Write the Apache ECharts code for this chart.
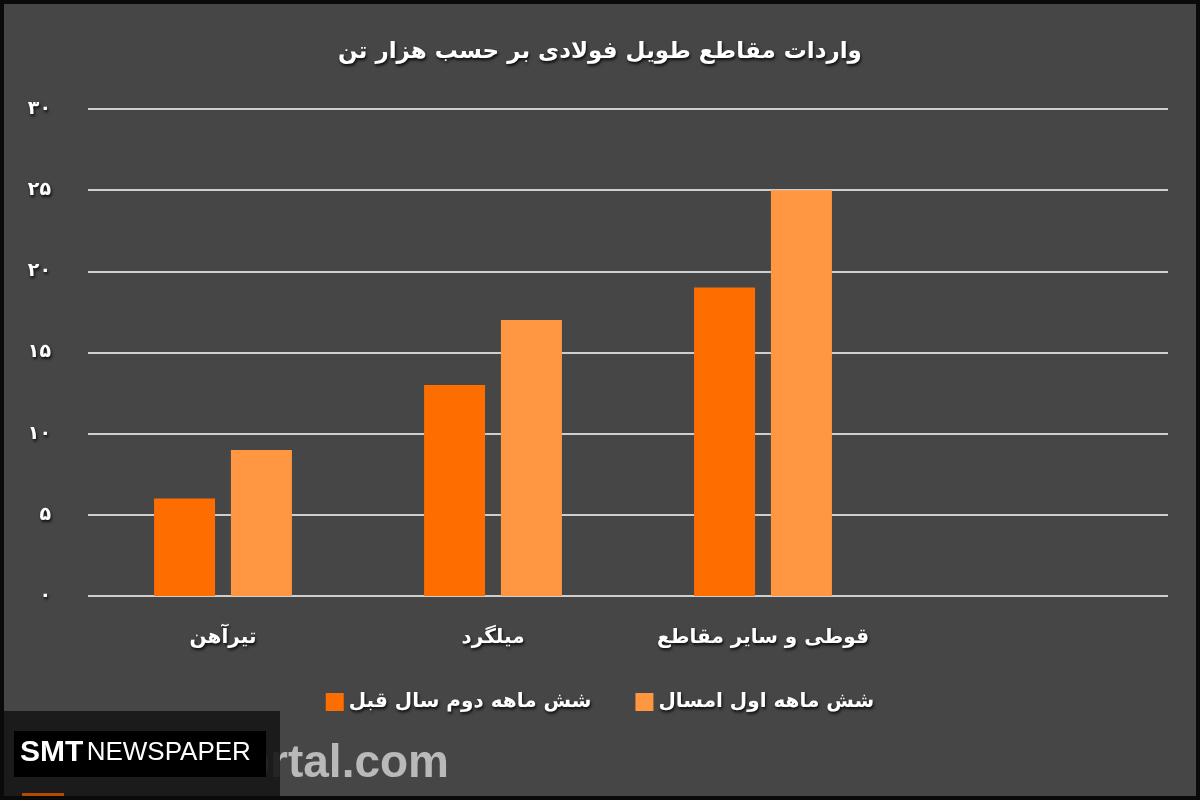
<!DOCTYPE html>
<html>
<head>
<meta charset="utf-8">
<script src="https://cdn.jsdelivr.net/npm/echarts@6/dist/echarts.min.js"></script>
<style>
html,body{margin:0;padding:0;background:#000;}
#c{width:1200px;height:800px;}
</style>
</head>
<body>
<div id="c"></div>
<script>
const categories = ['تیرآهن', 'میلگرد', 'قوطی و سایر مقاطع', ''];
const seriesNames = ['شش ماهه دوم سال قبل', 'شش ماهه اول امسال'];
const prevHalf = [6, 13, 19, null];
const thisHalf = [9, 17, 25, null];
const yTickLabels = ['۰', '۵', '۱۰', '۱۵', '۲۰', '۲۵', '۳۰'];
const titleText = 'واردات مقاطع طویل فولادی بر حسب هزار تن';

const FONT = '"DejaVu Sans", "Noto Sans", sans-serif';
const shadow = {textShadowColor:'rgba(0,0,0,0.85)', textShadowBlur:3, textShadowOffsetX:1, textShadowOffsetY:2};

const chart = echarts.init(document.getElementById('c'));
chart.setOption({
  backgroundColor: '#464646',
  animation: false,
  title: {
    text: titleText, left: 'center', top: 36,
    textStyle: Object.assign({color:'#fff', fontSize:23, fontWeight:'bold', fontFamily:FONT}, shadow)
  },
  legend: {
    data: seriesNames, left: 'center', top: 687, itemWidth: 18, itemHeight: 18, itemGap: 44,
    icon: 'rect',
    textStyle: Object.assign({color:'#fff', fontSize:20, fontWeight:'bold', fontFamily:FONT}, shadow)
  },
  grid: {left: 88, right: 32, top: 109, bottom: 204},
  xAxis: {
    type: 'category', data: categories,
    axisLine: {show:false}, axisTick: {show:false},
    axisLabel: Object.assign({color:'#fff', fontSize:20, fontWeight:'bold', fontFamily:FONT, margin:32, interval:0}, shadow)
  },
  yAxis: {
    type: 'value', min: 0, max: 30, interval: 5,
    axisLine: {show:false}, axisTick: {show:false},
    splitLine: {lineStyle: {color:'#cfcfcf', width:2}},
    axisLabel: Object.assign({
      color:'#fff', fontSize:19, fontWeight:'bold', fontFamily:FONT, margin:37,
      formatter: function(v){ return yTickLabels[Math.round(v/5)]; }
    }, shadow)
  },
  series: [
    {name: seriesNames[0], type:'bar', data: prevHalf, barWidth: 61, barGap: '26%',
     itemStyle: {color:'#fd6d00'}},
    {name: seriesNames[1], type:'bar', data: thisHalf, barWidth: 61,
     itemStyle: {color:'#ff9641'}}
  ],
  graphic: [
    {type:'text', z: 10,
     style: {x: 449, y: 764, text:'AminPortal.com', fill:'#b9b9b9', align:'right', verticalAlign:'middle',
             font:'bold 46px "Liberation Sans", Arial, sans-serif'}},
    {type:'rect', shape:{x:0, y:711, width:280, height:89}, z: 11,
     style:{fill:'rgba(24,24,24,0.92)'}},
    {type:'rect', shape:{x:22, y:793, width:42, height:4}, z: 12,
     style:{fill:'#b34c00'}},
    {type:'rect', shape:{x:14, y:731, width:252, height:46}, z: 12,
     style:{fill:'#000'}},
    {type:'text', left: 20, top: 738, z: 13,
     style:{text:'{a|SMT} {b|NEWSPAPER}', rich:{
       a:{fill:'#fff', font:'bold 30px "Liberation Sans Narrow", "Liberation Sans", sans-serif'},
       b:{fill:'#fff', font:'26px "Liberation Sans Narrow", "Liberation Sans", sans-serif'}
     }}},
    {type:'rect', shape:{x:0, y:0, width:1200, height:800}, z: 20, silent:true,
     style:{fill:'none', stroke:'#0a0a0a', lineWidth:8}}
  ]
});
</script>
</body>
</html>
